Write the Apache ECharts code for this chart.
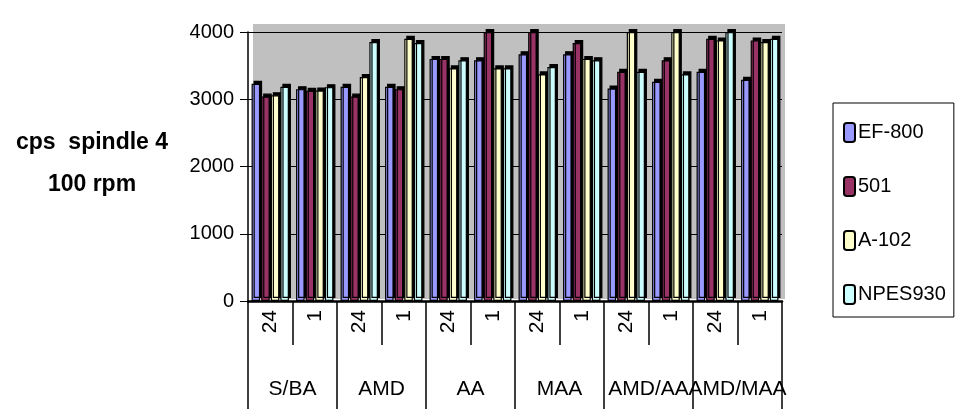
<!DOCTYPE html>
<html><head><meta charset="utf-8">
<script src="https://cdn.jsdelivr.net/npm/echarts@6/dist/echarts.min.js"></script>
<style>html,body{margin:0;padding:0;background:#fff}#c{width:957px;height:409px}</style>
</head><body><div id="c"></div>
<script>
const groups = ['S/BA', 'AMD', 'AA', 'MAA', 'AMD/AA', 'AMD/MAA'];
const times = ['24', '1'];
const seriesNames = ['EF-800', '501', 'A-102', 'NPES930'];
const ef800  = [3230, 3150, 3185, 3185, 3600, 3580, 3670, 3670, 3160, 3260, 3410, 3290];
const s501   = [3040, 3125, 3040, 3150, 3600, 4000, 4000, 3835, 3410, 3580, 3900, 3875];
const a102   = [3060, 3130, 3330, 3900, 3460, 3460, 3370, 3600, 4000, 4000, 3875, 3850];
const npes930= [3185, 3180, 3850, 3835, 3580, 3460, 3480, 3580, 3410, 3370, 4000, 3900];
const yTicks = [0, 1000, 2000, 3000, 4000];

const FONT = "'Liberation Sans',Arial,sans-serif";
const colors = ['#9999ff', '#993366', '#ffffcc', '#ccffff'];
const values = [ef800, s501, a102, npes930];
const inner = [];
groups.forEach(() => times.forEach(t => inner.push(t)));

const chart = echarts.init(document.getElementById('c'));
chart.setOption({
  animation: false,
  grid: { left: 248, right: 175, top: 32, bottom: 108, show: false },
  legend: {
    orient: 'vertical', left: 833, top: 103,
    data: seriesNames,
    itemWidth: 11, itemHeight: 19, itemGap: 33,
    padding: [19, 8, 12, 10],
    borderColor: '#000', borderWidth: 1,
    icon: 'roundRect',
    itemStyle: { borderColor: '#000', borderWidth: 2 },
    textStyle: { fontFamily: FONT, fontSize: 20, color: '#000', lineHeight: 19, padding: [0, 0, 0, -2] }
  },
  graphic: [
    { type: 'rect', z: -10, silent: true, shape: { x: 253, y: 24, width: 532, height: 275 }, style: { fill: '#c0c0c0' } },
    { type: 'text', x: 92, y: 143, style: { text: 'cps  spindle 4', font: "bold 23px " + FONT, fill: '#000', textAlign: 'center', textVerticalAlign: 'middle' } },
    { type: 'text', x: 92, y: 185, style: { text: '100 rpm', font: "bold 23px " + FONT, fill: '#000', textAlign: 'center', textVerticalAlign: 'middle' } }
  ],
  xAxis: [
    {
      type: 'category', data: inner, position: 'bottom',
      axisLine: { lineStyle: { color: '#000', width: 2.5 } },
      axisTick: { show: true, interval: 0, length: 44, lineStyle: { color: '#000', width: 1.5 } },
      axisLabel: { interval: 0, rotate: 90, margin: 9, fontFamily: FONT, fontSize: 21, color: '#000' }
    },
    {
      type: 'category', data: groups, position: 'bottom', offset: 0,
      axisLine: { show: false },
      axisTick: { show: true, interval: 0, length: 108, lineStyle: { color: '#000', width: 1.5 } },
      axisLabel: { interval: 0, margin: 78, fontFamily: FONT, fontSize: 21, color: '#000' }
    }
  ],
  yAxis: {
    type: 'value', min: yTicks[0], max: yTicks[yTicks.length - 1], interval: 1000,
    axisLine: { show: true, lineStyle: { color: '#000', width: 1.5 } },
    axisTick: { show: true, length: 8, lineStyle: { color: '#000' } },
    axisLabel: { margin: 14, fontFamily: FONT, fontSize: 20, color: '#000', formatter: v => String(v) },
    splitLine: { show: true, lineStyle: { color: '#000', width: 1 } }
  },
  series: seriesNames.map((n, i) => ({
    name: n, type: 'bar', xAxisIndex: 0, data: values[i],
    barGap: '12%', barCategoryGap: '16%',
    itemStyle: { color: colors[i], borderColor: '#000', borderWidth: 1.2, shadowColor: '#000', shadowBlur: 0, shadowOffsetX: 2, shadowOffsetY: -3 }
  }))
});
</script></body></html>
